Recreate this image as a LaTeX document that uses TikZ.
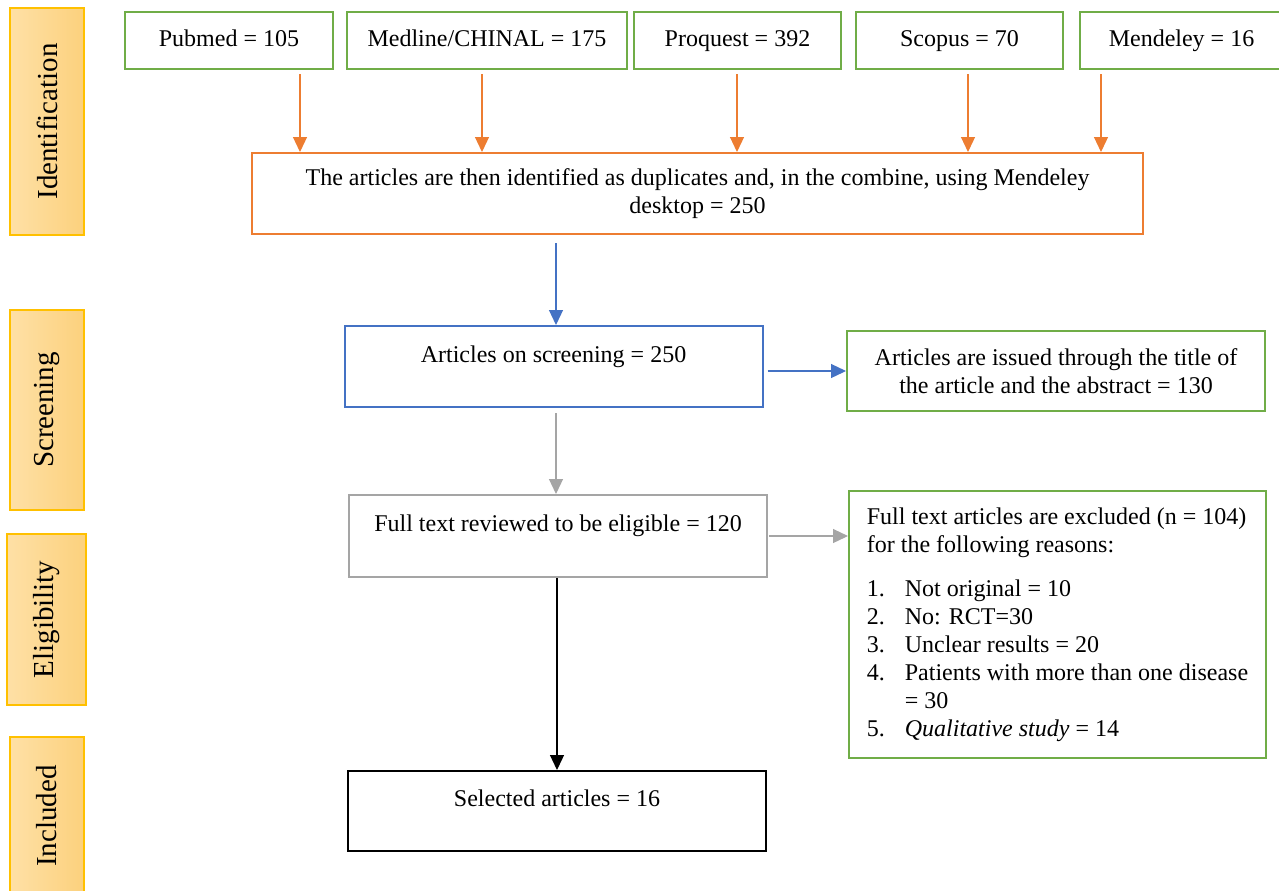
\documentclass[tikz,border=0pt]{standalone}
\usepackage{fontspec}
\setmainfont{Liberation Serif}
\usetikzlibrary{arrows.meta, positioning}
\definecolor{pgreen}{HTML}{70AD47}
\definecolor{porange}{HTML}{ED7D31}
\definecolor{pblue}{HTML}{4472C4}
\definecolor{pgray}{HTML}{A5A5A5}
\definecolor{pgold}{HTML}{FFC000}
\definecolor{plight}{HTML}{FEE0A6}
\definecolor{pdark}{HTML}{FCD17D}

\begin{document}
\begin{tikzpicture}[
    x=0.5pt, y=-0.5pt,
    font=\fontsize{12}{14}\selectfont,
    box/.style={draw, line width=1pt, inner sep=0pt, align=center},
    src/.style={box, draw=pgreen, minimum height=28.5pt, text height=8pt, text depth=2.5pt},
    mid/.style={box, minimum width=209pt, minimum height=40.5pt},
    lone/.style={mid, text height=8pt, text depth=12.5pt},
    stage/.style={draw=pgold, line width=0.6pt, rotate=90, left color=plight, right color=pdark, font=\fontsize{14.5}{16}\selectfont},
    arr/.style={-{Triangle[length=7.5pt, width=7pt]}, line width=0.6pt}
]
    \useasboundingbox (0,0) rectangle (1279,890);

    \node[stage, minimum width=113.5pt, minimum height=37pt] (ident) at (47,121.5) {Identification};
    \node[stage, minimum width=100pt, minimum height=37pt] (screen) at (47,410) {Screening};
    \node[stage, minimum width=85.5pt, minimum height=39.5pt] (elig) at (46.5,619.5) {Eligibility};
    \node[stage, minimum width=79pt, minimum height=37pt] (incl) at (47,816) {Included};

    \node[src, minimum width=104pt] (pubmed) at (229,40.5) {Pubmed = 105};
    \node[src, minimum width=140pt] (medline) at (487,40.5) {Medline/CHINAL = 175};
    \node[src, minimum width=103.5pt] (proquest) at (737.5,40.5) {Proquest = 392};
    \node[src, minimum width=103.5pt] (scopus) at (959.5,40.5) {Scopus = 70};
    \node[src, minimum width=101.5pt] (mendeley) at (1181.5,40.5) {Mendeley = 16};

    \node[box, draw=porange, minimum width=445.5pt, minimum height=40.5pt] (dup) at (697.5,193.5)
        {The articles are then identified as duplicates and, in the combine, using Mendeley\\desktop = 250};

    \node[lone, draw=pblue] (scr) at (553.5,366.5) {Articles on screening = 250};
    \node[mid, draw=pgreen, minimum height=40pt] (excl1) at (1056,371)
        {Articles are issued through the title of\\the article and the abstract = 130};

    \node[lone, draw=pgray, minimum height=41pt] (full) at (558,536) {Full text reviewed to be eligible = 120};
    \node[mid, draw=pgreen, minimum width=208.5pt, minimum height=133.5pt, align=left] (excl2) at (1057.5,624.5)
        {Full text articles are excluded (n = 104)\\
         for the following reasons:\\[8pt]
         \makebox[19pt][l]{1.}Not original = 10\\
         \makebox[19pt][l]{2.}No: RCT=30\\
         \makebox[19pt][l]{3.}Unclear results = 20\\
         \makebox[19pt][l]{4.}Patients with more than one disease\\
         \hspace*{19pt}= 30\\
         \makebox[19pt][l]{5.}\textit{Qualitative study} = 14};

    \node[lone, draw=black, minimum height=40pt] (sel) at (557,811) {Selected articles = 16};

    \draw[arr, porange] ([xshift=35.5pt, yshift=-2pt]pubmed.south) -- ([xshift=35.5pt]pubmed.south |- dup.north);
    \draw[arr, porange] ([xshift=-2.5pt, yshift=-2pt]medline.south) -- ([xshift=-2.5pt]medline.south |- dup.north);
    \draw[arr, porange] ([xshift=-0.25pt, yshift=-2pt]proquest.south) -- ([xshift=-0.25pt]proquest.south |- dup.north);
    \draw[arr, porange] ([xshift=4.25pt, yshift=-2pt]scopus.south) -- ([xshift=4.25pt]scopus.south |- dup.north);
    \draw[arr, porange] ([xshift=-40.25pt, yshift=-2pt]mendeley.south) -- ([xshift=-40.25pt]mendeley.south |- dup.north);

    \draw[arr, pblue] ([xshift=1.25pt, yshift=-4pt]scr.north |- dup.south) -- ([xshift=1.25pt]scr.north);
    \draw[arr, pblue] ([xshift=2pt]scr.east |- excl1.west) -- (excl1.west);
    \draw[arr, pgray] ([xshift=-1pt, yshift=-2.5pt]full.north |- scr.south) -- ([xshift=-1pt]full.north);
    \draw[arr, pgray] ([xshift=0.5pt]full.east) -- (full.east -| excl2.west);
    \draw[arr, black] (sel.north |- full.south) -- (sel.north);
\end{tikzpicture}
\end{document}
